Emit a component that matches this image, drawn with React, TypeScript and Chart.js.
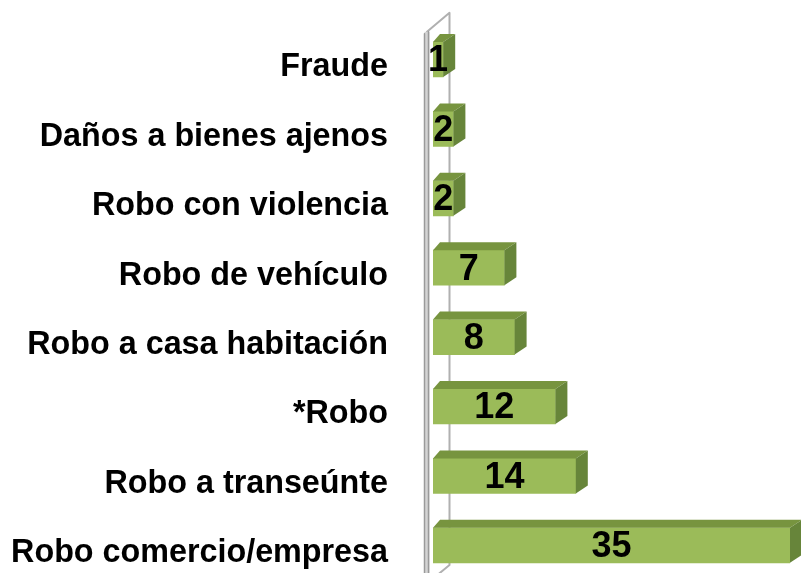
import { useEffect, useRef } from 'react';
import { Chart, registerables } from 'chart.js';
Chart.register(...registerables);

const categories = [
  'Fraude',
  'Daños a bienes ajenos',
  'Robo con violencia',
  'Robo de vehículo',
  'Robo a casa habitación',
  '*Robo',
  'Robo a transeúnte',
  'Robo comercio/empresa',
];
const values = [1, 2, 2, 7, 8, 12, 14, 35];
const axisMin = 0;
const axisMax = 35;

const FONT = '"Liberation Sans", Arial, sans-serif';
const FRONT = '#9BBB59';
const TOP = '#77943F';
const SIDE = '#67853A';
const DX = 12;
const DXL = 7;
const DY = 8;

const wallPlugin = {
  id: 'wall3d',
  beforeDatasetsDraw(chart: any) {
    const { ctx, chartArea } = chart;
    const fx = chartArea.left - 6;
    const bx = chartArea.left + 16.5;
    const fTop = chartArea.top + 7;
    const bTop = chartArea.top - 12;
    const floorBack = chartArea.bottom - 15;
    const bottom = chart.height + 2;
    ctx.save();
    ctx.lineCap = 'round';
    ctx.lineJoin = 'round';
    // back edge + top edge + floor edge
    ctx.strokeStyle = '#b0b0b0';
    ctx.lineWidth = 2;
    ctx.beginPath();
    ctx.moveTo(fx, fTop);
    ctx.lineTo(bx, bTop);
    ctx.lineTo(bx, floorBack);
    ctx.lineTo(bx - 23, floorBack + 19);
    ctx.stroke();
    // front edge (thick, double)
    ctx.fillStyle = '#d4d4d4';
    ctx.fillRect(fx - 2.5, fTop, 5, bottom - fTop);
    ctx.strokeStyle = '#9a9a9a';
    ctx.lineWidth = 1.5;
    ctx.beginPath();
    ctx.moveTo(fx - 2.5, fTop + 2);
    ctx.lineTo(fx - 2.5, bottom);
    ctx.moveTo(fx + 1.5, fTop);
    ctx.lineTo(fx + 1.5, bottom);
    ctx.stroke();
    ctx.restore();
  },
};

const bar3dPlugin = {
  id: 'bar3d',
  afterDatasetsDraw(chart: any) {
    const { ctx } = chart;
    const meta = chart.getDatasetMeta(0);
    ctx.save();
    meta.data.forEach((el: any) => {
      const { x, y, base, height } = el.getProps(['x', 'y', 'base', 'height'], true);
      const top = y - height / 2;
      const bot = y + height / 2;
      ctx.fillStyle = TOP;
      ctx.beginPath();
      ctx.moveTo(base, top);
      ctx.lineTo(x, top);
      ctx.lineTo(x + DX, top - DY);
      ctx.lineTo(base + DXL, top - DY);
      ctx.closePath();
      ctx.fill();
      ctx.fillStyle = SIDE;
      ctx.beginPath();
      ctx.moveTo(x, top);
      ctx.lineTo(x + DX, top - DY);
      ctx.lineTo(x + DX, bot - DY);
      ctx.lineTo(x, bot);
      ctx.closePath();
      ctx.fill();
    });
    ctx.fillStyle = '#000';
    ctx.font = `bold 36px ${FONT}`;
    ctx.textAlign = 'center';
    ctx.textBaseline = 'middle';
    meta.data.forEach((el: any, i: number) => {
      const { x, y, base } = el.getProps(['x', 'y', 'base'], true);
      ctx.fillText(String(values[i]), (x + base) / 2, y + 2);
    });
    ctx.restore();
  },
};

export default function App() {
  const ref = useRef<HTMLCanvasElement>(null);
  useEffect(() => {
    const chart = new Chart(ref.current as HTMLCanvasElement, {
      type: 'bar',
      data: {
        labels: categories,
        datasets: [
          {
            data: values,
            backgroundColor: FRONT,
            borderWidth: 0,
            barThickness: 35,
          },
        ],
      },
      options: {
        indexAxis: 'y',
        responsive: false,
        animation: false,
        layout: { padding: { left: 0, right: 11, top: 24.8, bottom: 0 } },
        plugins: { legend: { display: false }, tooltip: { enabled: false } },
        scales: {
          x: { type: 'linear', min: axisMin, max: axisMax, display: false },
          y: {
            type: 'category',
            grid: { display: false, drawTicks: false },
            border: { display: false },
            ticks: {
              color: '#000',
              font: { family: FONT, size: 32.3, weight: 'bold' },
              padding: 45,
              labelOffset: 8,
              autoSkip: false,
            },
            afterFit(scale: any) {
              scale.width = 433;
              scale.paddingTop = 0;
              scale.paddingBottom = 0;
            },
          },
        },
      },
      plugins: [wallPlugin, bar3dPlugin],
    } as any);
    return () => chart.destroy();
  }, []);
  return (
    <div
      style={{
        position: 'absolute',
        left: 0,
        top: 0,
        width: 801,
        height: 573,
        overflow: 'hidden',
        background: '#fff',
      }}
    >
      <canvas ref={ref} width={801} height={580} style={{ display: 'block' }} />
    </div>
  );
}
